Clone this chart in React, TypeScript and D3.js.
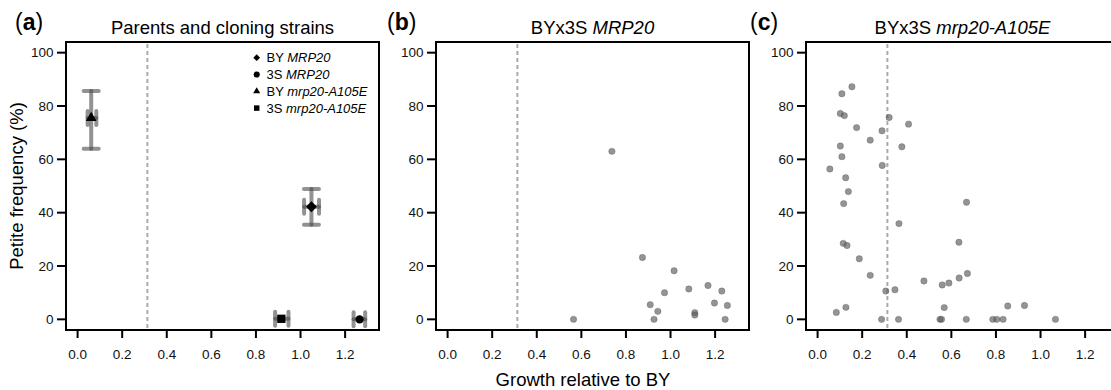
import * as d3 from 'd3'

// shared axes
const xTicks = [0, 0.2, 0.4, 0.6, 0.8, 1.0, 1.2]
const yTicks = [0, 20, 40, 60, 80, 100]
const threshold = 0.313

// panel (a): parents and cloning strains
const strains = ['BY', '3S', 'BY', '3S']
const alleles = ['MRP20', 'MRP20', 'mrp20-A105E', 'mrp20-A105E']
const strainShapes = ['diamond', 'circle', 'triangle', 'square']
const strainGrowth = [1.049, 1.265, 0.061, 0.914]
const strainGrowthLo = [1.016, 1.238, 0.045, 0.886]
const strainGrowthHi = [1.083, 1.29, 0.084, 0.946]
const strainPetite = [42.2, 0, 75.5, 0.2]
const strainPetiteLo = [35.5, 0, 64.0, 0.2]
const strainPetiteHi = [48.9, 0, 85.6, 0.2]

// panel (b): BYx3S MRP20 segregants
const bGrowth = [0.565, 0.737, 0.874, 0.909, 0.943, 0.926, 0.973, 1.016, 1.082, 1.109, 1.109, 1.168, 1.23, 1.197, 1.255, 1.245]
const bPetite = [0, 63.0, 23.2, 5.5, 3.0, 0, 10.0, 18.2, 11.4, 2.5, 1.6, 12.7, 10.6, 6.1, 5.2, 0]

// panel (c): BYx3S mrp20-A105E segregants
const cGrowth = [
  0.109, 0.154, 0.102, 0.12, 0.175, 0.236, 0.289, 0.321, 0.408, 0.378,
  0.102, 0.109, 0.29, 0.055, 0.126, 0.138, 0.117, 0.668, 0.365, 0.115,
  0.132, 0.634, 0.187, 0.236, 0.477, 0.559, 0.589, 0.635, 0.672, 0.306,
  0.347, 0.127, 0.084, 0.568, 0.853, 0.928, 0.287, 0.363, 0.549, 0.556,
  0.667, 0.786, 0.804, 0.832, 1.067,
]
const cPetite = [
  84.6, 87.2, 77.2, 76.4, 71.9, 67.2, 70.7, 75.7, 73.2, 64.7,
  65.0, 61.0, 57.7, 56.4, 53.1, 47.9, 43.4, 43.9, 35.9, 28.5,
  27.7, 28.9, 22.7, 16.5, 14.4, 12.9, 13.6, 15.5, 17.2, 10.6,
  11.1, 4.5, 2.6, 4.4, 5.0, 5.2, 0, 0, 0, 0,
  0, 0, 0, 0, 0,
]

const FONT = '"Liberation Sans", Arial, Helvetica, sans-serif'
const W = 1111
const H = 390
const panelLeft = [66, 436, 806]
const labelX = [15, 387, 750]
const top = 42
const pw = 313
const ph = 288

const titles = [
  { plain: 'Parents and cloning strains', ital: '' },
  { plain: 'BYx3S ', ital: 'MRP20' },
  { plain: 'BYx3S ', ital: 'mrp20-A105E' },
]
const letters = ['a', 'b', 'c']

// marker areas (px^2) for main plot and legend
const markerArea: Record<string, number> = { diamond: 60, circle: 54, triangle: 50, square: 69 }
const legendArea: Record<string, number> = { diamond: 23, circle: 30, triangle: 22, square: 30 }

function shapePath(shape: string, size: number) {
  if (shape === 'circle') return d3.symbol().type(d3.symbolCircle).size(size)()!
  if (shape === 'triangle') return d3.symbol().type(d3.symbolTriangle).size(size)()!
  return d3.symbol().type(d3.symbolSquare).size(size)()!
}

function Marker({ shape, cx, cy, size }: { shape: string; cx: number; cy: number; size: number }) {
  const rot = shape === 'diamond' ? ' rotate(45)' : ''
  return <path d={shapePath(shape, size)} transform={`translate(${cx},${cy})${rot}`} fill="#000" />
}

function Frame({ i, children }: { i: number; children?: any }) {
  const left = panelLeft[i]
  const x = d3.scaleLinear().domain([-0.052, 1.352]).range([left, left + pw])
  const y = d3.scaleLinear().domain([-4, 104]).range([top + ph, top])
  const t = titles[i]
  return (
    <g>
      <text x={labelX[i]} y={30} fontSize={23} fontFamily={FONT}>
        (<tspan fontWeight="bold">{letters[i]}</tspan>)
      </text>
      <text x={left + pw / 2} y={34} fontSize={18.5} fontFamily={FONT} textAnchor="middle">
        {t.plain}
        {t.ital && <tspan fontStyle="italic">{t.ital}</tspan>}
      </text>
      <line x1={x(threshold)} x2={x(threshold)} y1={top + 2} y2={top + ph - 2}
        stroke="#aaa" strokeWidth={2} strokeDasharray="4 3" />
      {children(x, y)}
      <rect x={left} y={top} width={pw} height={ph} fill="none" stroke="#000" strokeWidth={2} />
      {yTicks.map(v => (
        <g key={v}>
          <line x1={left - 9} x2={left} y1={y(v)} y2={y(v)} stroke="#000" strokeWidth={2} />
          <text x={left - 12.5} y={y(v) + 4.8} fontSize={13.5} fontFamily={FONT} textAnchor="end" fill="#111">{v}</text>
        </g>
      ))}
      {xTicks.map(v => (
        <g key={v}>
          <line x1={x(v)} x2={x(v)} y1={top + ph} y2={top + ph + 8} stroke="#000" strokeWidth={2} />
          <text x={x(v)} y={359} fontSize={13.5} fontFamily={FONT} textAnchor="middle" fill="#111">{v.toFixed(1)}</text>
        </g>
      ))}
    </g>
  )
}

function Scatter({ xs, ys, x, y }: { xs: number[]; ys: number[]; x: any; y: any }) {
  return (
    <g>
      {xs.map((g, k) => (
        <circle key={k} cx={x(g)} cy={y(ys[k])} r={3.2} fill="#5a5a5a" fillOpacity={0.65}
          stroke="#444" strokeOpacity={0.35} strokeWidth={0.8} />
      ))}
    </g>
  )
}

export default function App() {
  const ebColor = '#4a4a4a'
  return (
    <svg width={W} height={H} style={{ display: 'block', background: '#fff' }}>
      <style>{'body{margin:0}'}</style>
      <Frame i={0}>
        {(x: any, y: any) => (
          <g>
            {strainGrowth.map((g, k) => {
              const cx = x(g)
              const cy = y(strainPetite[k])
              const hasV = strainPetiteHi[k] > strainPetiteLo[k]
              return (
                <g key={k} stroke={ebColor} strokeOpacity={0.6} strokeWidth={4} strokeLinecap="round">
                  {hasV && (
                    <g>
                      <line x1={cx} x2={cx} y1={y(strainPetiteLo[k])} y2={y(strainPetiteHi[k])} />
                      <line x1={cx - 7.5} x2={cx + 7.5} y1={y(strainPetiteLo[k])} y2={y(strainPetiteLo[k])} />
                      <line x1={cx - 7.5} x2={cx + 7.5} y1={y(strainPetiteHi[k])} y2={y(strainPetiteHi[k])} />
                    </g>
                  )}
                  <line x1={x(strainGrowthLo[k])} x2={x(strainGrowthHi[k])} y1={cy} y2={cy} />
                  <line x1={x(strainGrowthLo[k])} x2={x(strainGrowthLo[k])} y1={cy - 7} y2={cy + 7} />
                  <line x1={x(strainGrowthHi[k])} x2={x(strainGrowthHi[k])} y1={cy - 7} y2={cy + 7} />
                </g>
              )
            })}
            {strainGrowth.map((g, k) => (
              <Marker key={k} shape={strainShapes[k]} cx={x(g)} cy={y(strainPetite[k])} size={markerArea[strainShapes[k]]} />
            ))}
            {strains.map((s, k) => (
              <g key={k}>
                <Marker shape={strainShapes[k]} cx={panelLeft[0] + 190.7} cy={57.7 + 16.8 * k} size={legendArea[strainShapes[k]]} />
                <text x={panelLeft[0] + 200.5} y={57.7 + 16.8 * k + 4.6} fontSize={13} fontFamily={FONT}>
                  {s} <tspan fontStyle="italic">{alleles[k]}</tspan>
                </text>
              </g>
            ))}
          </g>
        )}
      </Frame>
      <Frame i={1}>
        {(x: any, y: any) => <Scatter xs={bGrowth} ys={bPetite} x={x} y={y} />}
      </Frame>
      <Frame i={2}>
        {(x: any, y: any) => <Scatter xs={cGrowth} ys={cPetite} x={x} y={y} />}
      </Frame>
      <text transform="translate(23,186) rotate(-90)" fontSize={18.5} fontFamily={FONT} textAnchor="middle">
        Petite frequency (%)
      </text>
      <text x={583} y={386} fontSize={18.5} fontFamily={FONT} textAnchor="middle">
        Growth relative to BY
      </text>
    </svg>
  )
}
